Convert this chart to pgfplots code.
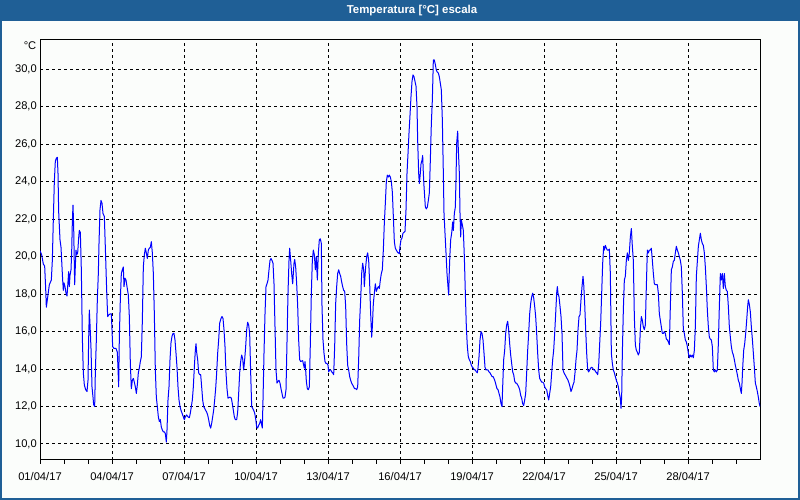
\documentclass[border=0pt]{standalone}
\usepackage{fontspec}
\setmainfont{Liberation Sans}
\usepackage{pgfplots}
\pgfplotsset{compat=1.18}
\usepackage{pgfplotstable}
\definecolor{barblue}{RGB}{31,95,150}
\definecolor{bgcol}{RGB}{251,253,251}

\pgfplotstableread{
x y
0 20.32
5 20.1
10 19.6
14 19.5
17 18.3
19 17.3
22 17.7
25 18.1
28 18.5
34 18.75
37 19.8
40 22.0
43 24.0
46 25.1
49 25.25
52 25.3
54 24.45
56 22.4
60 20.9
63 20.5
65 19.8
68 18.75
70 18.2
72 18.6
75 18.4
78 18.05
81 17.9
83 18.4
86 19.2
88 18.4
90 19.0
93 19.3
95 20.2
97 21.85
99 22.75
101 21.6
104 18.5
106 19.5
108 20.35
110 20.1
113 20.2
116 21.0
118 21.4
121 21.3
124 19.3
127 15.7
130 13.8
133 13.15
137 12.9
141 12.8
144 13.4
146 15.6
148 17.15
150 16.4
153 15.1
156 13.05
159 12.5
161 12.1
164 12.0
166 13.8
169 15.55
172 17.7
175 19.1
177 20.7
180 22.5
183 23.0
186 22.85
189 22.3
193 22.15
196 20.5
200 18.2
203 16.8
207 16.9
211 16.95
214 16.95
216 16.1
218 15.2
222 15.1
228 15.1
232 14.9
234 14.05
236 13.05
238 15.7
241 17.7
244 19.1
247 19.3
250 19.45
252 18.4
255 18.85
258 18.75
261 18.4
265 17.95
268 16.8
271 14.3
274 12.95
277 13.4
280 13.5
283 13.3
286 13.05
289 12.7
292 13.15
295 13.8
298 14.05
301 14.4
304 14.65
307 16.55
310 19.45
313 20.1
316 20.45
319 20.2
322 19.9
325 20.35
328 20.45
331 20.5
334 20.8
337 20.2
340 19.1
343 16.95
346 13.95
349 12.5
352 12.0
355 11.45
358 11.2
361 11.3
364 10.9
367 10.75
370 10.65
373 10.65
376 10.55
379 10.1
381 10.75
384 12.35
387 13.05
390 14.5
393 15.4
396 15.75
399 15.9
402 15.9
405 15.55
408 14.85
411 14.1
414 13.05
417 12.35
420 12.0
423 11.8
426 11.65
430 11.45
433 11.3
436 11.45
440 11.55
444 11.45
448 11.4
451 11.65
454 12.0
457 12.35
460 13.05
463 14.1
466 15.0
468 15.35
470 14.9
473 14.5
476 13.8
479 13.7
482 13.7
485 13.05
488 12.35
491 12.0
494 11.9
497 11.8
500 11.7
503 11.55
506 11.3
509 11.0
512 10.85
515 11.1
518 11.45
521 11.8
524 12.35
527 12.95
530 13.8
533 14.85
536 15.55
539 16.45
543 16.7
546 16.8
549 16.7
552 16.1
555 15.2
558 13.8
561 12.95
564 12.45
570 12.5
574 12.45
577 12.15
580 11.8
583 11.45
586 11.3
590 11.3
593 11.7
596 12.7
599 13.8
602 14.4
605 14.75
608 14.55
611 13.95
614 14.5
617 15.2
620 16.1
623 16.5
626 16.35
629 15.9
632 13.8
635 12.0
638 11.9
641 11.8
644 11.65
647 11.35
650 10.9
653 10.85
656 11.0
659 11.1
662 11.3
664 11.1
667 10.85
669 12.35
672 14.85
675 16.95
678 18.4
681 18.55
684 18.75
687 19.3
690 19.8
693 19.9
696 19.8
699 19.65
702 18.55
705 16.25
708 13.95
711 13.25
714 13.35
717 13.4
720 13.25
723 12.95
726 12.7
729 12.45
732 12.45
735 12.5
738 12.9
741 15.45
744 18.05
747 19.8
749 20.45
752 19.8
755 19.1
758 18.55
760 19.1
762 19.65
764 19.85
767 19.45
770 18.55
773 17.4
776 15.55
779 14.5
782 14.4
788 14.45
791 14.2
793 14.05
795 14.4
797 13.95
799 13.35
802 12.95
805 12.9
808 13.05
811 15.35
814 18.05
817 19.8
820 20.35
823 20.1
826 19.3
829 20.0
832 18.75
835 20.2
838 20.9
841 20.95
844 20.7
846 17.35
849 15.55
852 14.85
855 14.4
858 14.3
861 14.3
864 14.2
866 13.85
869 13.95
872 13.95
875 13.85
878 13.8
881 13.7
884 15.2
887 17.5
890 18.4
893 19.1
896 19.3
899 19.1
902 18.95
905 18.65
908 18.4
911 18.2
914 18.15
917 17.35
920 15.35
923 14.2
926 13.95
929 13.6
932 13.4
935 13.25
938 13.15
941 13.05
944 12.95
947 12.95
950 12.9
953 13.05
956 14.5
959 16.6
962 17.7
965 19.1
968 19.65
971 19.3
973 18.4
975 18.95
977 19.45
980 20.0
983 20.2
986 19.8
989 18.55
992 16.95
995 15.7
997 16.25
1000 17.5
1003 18.05
1006 18.55
1009 18.15
1012 18.3
1015 18.4
1018 18.3
1021 18.75
1024 19.1
1027 19.3
1030 20.35
1033 21.8
1036 22.85
1039 24.0
1042 24.35
1045 24.25
1048 24.35
1051 24.25
1054 24.0
1057 23.45
1060 22.15
1063 20.8
1066 20.45
1069 20.35
1072 20.25
1075 20.2
1078 20.15
1080 20.55
1083 20.9
1086 21.0
1089 21.25
1092 21.3
1095 21.35
1098 22.5
1101 24.45
1104 25.5
1107 26.6
1110 27.55
1113 28.55
1116 29.35
1119 29.7
1122 29.6
1125 29.35
1128 29.1
1131 28.0
1133 26.2
1136 24.45
1138 23.9
1141 24.45
1143 24.95
1146 25.15
1148 25.4
1150 24.45
1152 23.75
1154 23.2
1156 22.65
1159 22.55
1162 22.65
1165 23.0
1168 23.4
1171 25.15
1174 27.1
1177 28.35
1180 30.5
1183 30.5
1186 30.25
1189 29.95
1192 29.85
1195 29.8
1198 29.6
1201 29.25
1204 28.9
1207 27.3
1210 24.45
1212 22.3
1215 21.25
1218 20.2
1221 19.1
1224 18.4
1226 17.95
1228 19.3
1230 20.2
1232 20.9
1235 21.25
1238 21.85
1240 21.4
1243 22.3
1246 22.65
1248 24.1
1250 26.05
1253 26.7
1255 25.7
1258 24.45
1260 22.3
1262 21.05
1264 21.95
1267 21.7
1270 21.4
1273 20.0
1276 18.05
1279 16.25
1282 15.2
1285 14.65
1288 14.5
1291 14.4
1294 14.2
1297 14.1
1300 14.05
1303 13.95
1306 13.95
1309 13.85
1312 13.8
1314 14.05
1317 14.65
1320 15.55
1323 16.0
1326 15.9
1329 15.55
1332 14.85
1335 14.1
1338 13.95
1341 13.95
1344 13.95
1347 13.85
1350 13.8
1353 13.7
1356 13.6
1359 13.6
1362 13.5
1365 13.35
1368 13.15
1371 12.95
1374 12.9
1377 12.7
1380 12.5
1383 12.15
1386 12.0
1388 13.05
1391 14.5
1394 15.0
1397 15.9
1400 16.35
1403 16.55
1406 16.1
1409 15.35
1412 14.75
1415 14.3
1418 13.85
1421 13.7
1424 13.35
1427 13.25
1430 13.25
1433 13.15
1436 13.05
1439 12.9
1442 12.6
1445 12.45
1448 12.15
1451 12.05
1454 12.35
1457 12.7
1460 13.8
1463 15.0
1466 15.9
1469 16.95
1472 17.5
1475 17.85
1478 18.05
1481 17.8
1484 17.35
1487 16.8
1490 15.9
1493 14.85
1496 13.95
1499 13.5
1502 13.4
1505 13.3
1508 13.3
1511 13.25
1514 13.05
1517 12.95
1520 12.9
1523 12.6
1526 12.35
1529 12.7
1532 13.05
1535 13.8
1538 14.5
1541 15.0
1544 15.9
1547 16.95
1550 18.05
1552 18.4
1554 18.05
1557 17.85
1560 17.35
1563 16.8
1566 15.9
1569 13.95
1572 13.8
1575 13.7
1578 13.6
1581 13.5
1584 13.4
1587 13.25
1590 13.05
1593 12.8
1596 12.95
1599 13.15
1602 13.3
1605 13.8
1608 14.5
1611 15.0
1614 16.1
1617 16.8
1620 16.9
1623 17.7
1626 18.4
1629 18.95
1631 18.55
1634 17.5
1637 16.1
1640 14.85
1643 13.95
1646 13.85
1649 13.95
1652 14.05
1655 14.1
1658 14.05
1661 13.95
1664 13.95
1667 13.85
1670 13.8
1673 13.7
1676 14.2
1679 15.35
1682 16.45
1685 18.05
1688 19.65
1691 20.55
1693 20.35
1696 20.6
1699 20.45
1702 20.35
1705 20.35
1708 20.4
1711 19.1
1714 14.85
1717 14.3
1720 13.95
1723 13.8
1726 13.6
1729 13.4
1732 13.25
1735 13.05
1738 12.7
1741 12.45
1743 11.9
1745 12.5
1747 14.85
1750 17.15
1753 18.75
1756 18.95
1759 19.8
1762 20.2
1765 19.8
1768 20.2
1771 21.05
1774 21.5
1777 20.55
1780 19.8
1783 16.8
1786 15.3
1789 15.0
1792 14.9
1795 14.75
1798 14.9
1801 16.1
1804 16.8
1807 16.6
1810 16.25
1813 16.1
1816 16.35
1819 18.4
1822 20.35
1825 20.2
1828 20.35
1831 20.35
1834 20.45
1837 19.8
1840 19.1
1843 18.55
1846 18.5
1849 18.5
1852 18.5
1855 18.05
1858 16.95
1861 16.6
1864 16.25
1867 15.9
1870 15.9
1873 16.0
1876 15.9
1879 15.6
1882 15.55
1885 15.45
1888 15.3
1891 17.35
1894 19.3
1897 19.45
1900 19.75
1903 19.8
1906 20.2
1909 20.55
1912 20.35
1915 20.2
1918 20.0
1921 19.8
1924 19.45
1927 18.05
1930 16.1
1933 15.9
1936 15.55
1939 15.45
1942 15.2
1945 14.85
1948 14.6
1951 14.75
1954 14.65
1957 14.75
1960 14.6
1963 15.0
1966 16.25
1969 18.95
1972 19.75
1975 20.55
1978 20.9
1981 21.25
1984 20.9
1987 20.7
1990 20.6
1993 20.2
1996 19.45
1999 18.4
2002 17.15
2005 16.25
2008 15.7
2011 15.6
2014 15.55
2017 15.2
2020 13.95
2023 13.85
2026 13.95
2029 13.85
2032 13.95
2035 15.35
2038 17.35
2041 19.1
2044 18.75
2047 19.1
2050 18.3
2053 19.1
2056 18.4
2059 18.2
2062 18.15
2065 17.35
2068 16.25
2071 15.7
2074 15.2
2077 14.9
2080 14.75
2083 14.5
2086 14.2
2089 13.95
2092 13.7
2095 13.4
2098 13.25
2101 12.95
2104 12.7
2106 13.25
2108 14.05
2111 15.0
2114 15.35
2117 15.9
2120 16.6
2123 17.35
2125 17.7
2128 17.45
2131 17.05
2134 16.25
2137 15.6
2140 14.85
2143 14.1
2146 13.25
2149 13.05
2152 12.8
2155 12.5
2158 12.15
2160 12.0
}\temps

\begin{document}
\begin{tikzpicture}[x=1bp,y=1bp]
\useasboundingbox (0,0) rectangle (800,500);
\fill[bgcol] (0,0) rectangle (800,500);
\fill[barblue] (0,479) rectangle (800,500);
\draw[barblue, line width=2bp] (1,1) rectangle (799,499);
\node[white, inner sep=0pt, font=\bfseries\fontsize{11.5}{13}\selectfont] at (412,489.5) {Temperatura [°C] escala};
\begin{axis}[
  at={(40bp,40bp)}, anchor=south west,
  scale only axis, width=720bp, height=420bp,
  xmin=0, xmax=2160, ymin=9.146, ymax=31.564,
  axis line style={black, line width=1bp},
  xtick={0,216,432,648,864,1080,1296,1512,1728,1944},
  xticklabels={01/04/17,04/04/17,07/04/17,10/04/17,13/04/17,16/04/17,19/04/17,22/04/17,25/04/17,28/04/17},
  minor xtick={72,144,288,360,504,576,720,792,936,1008,1152,1224,1368,1440,1584,1656,1800,1872,2016,2088},
  ytick={10,12,14,16,18,20,22,24,26,28,30},
  yticklabels={{10,0},{12,0},{14,0},{16,0},{18,0},{20,0},{22,0},{24,0},{26,0},{28,0},{30,0}},
  xtick pos=bottom, ytick pos=left,
  xtick align=outside, ytick align=inside,
  major tick length=4bp, minor tick length=4bp,
  xtick style={black, line width=1bp},
  ytick style={draw=none},
  xmajorgrids, ymajorgrids,
  major grid style={black, line width=1bp, dash pattern=on 3bp off 3bp},
  ticklabel style={font=\fontsize{11.2}{13}\selectfont, text=black},
  xticklabel style={inner sep=0pt, anchor=north, yshift=-8bp},
  yticklabel style={inner sep=0pt, anchor=east, xshift=-3bp},
]
\addplot[blue, line width=1bp, line join=round] table[x=x, y=y] {\temps};
\end{axis}
\node[anchor=east, inner sep=0pt, font=\fontsize{11.2}{13}\selectfont] at (36.5,454) {°C};
\end{tikzpicture}
\end{document}
